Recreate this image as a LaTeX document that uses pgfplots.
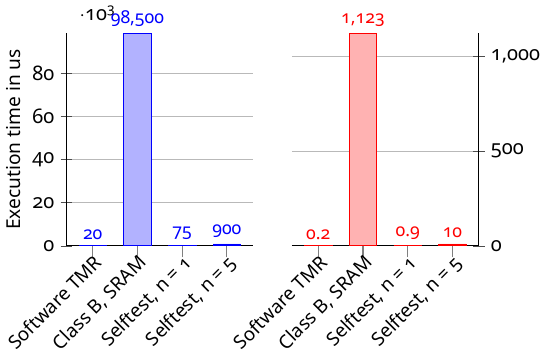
\documentclass[border=0pt]{standalone}
\usepackage{pgfplots}
\pgfplotsset{compat=1.18}
\usepackage{fontspec}
\setmainfont{Noto Sans}[Numbers=OldStyle]
\begin{document}
\begin{tikzpicture}
\pgfplotsset{
  timebars/.style={
    ybar, bar width=15.5pt,
    scale only axis, width=105.4pt, height=120pt,
    xmin=-0.59, xmax=3.59, ymin=0,
    xtick={0,1,2,3},
    xticklabels={Software TMR, {Class B, SRAM}, {Selftest, n = 1}, {Selftest, n = 5}},
    xticklabel style={rotate=45, anchor=north east, inner sep=0.5pt, font=\fontsize{10.6}{12.5}\selectfont},
    xticklabel shift=-3pt,
    yticklabel style={font=\fontsize{11.3}{13}\selectfont},
    major tick length=6.5pt,
    x tick style={gray, line width=0.6pt},
    xtick align=outside,
    y tick style={black!70},
    ytick align=center,
    axis x line*=bottom,
    ymajorgrids, grid style={gray!55, line width=0.4pt},
    nodes near coords,
    nodes near coords style={font=\fontsize{10}{12}\selectfont},
    /pgf/number format/assume math mode=true,
  },
}
% execution times in us
\begin{axis}[timebars,
    name=left, ymax=98500,
    axis y line*=left,
    ytick={0,20000,40000,60000,80000},
    scaled y ticks=base 10:-3,
    ytick scale label code/.code={$\cdot$10\textsuperscript{#1}},
    every y tick scale label/.style={at={(rel axis cs:0,1)}, anchor=base west, xshift=4pt, yshift=7pt, font=\fontsize{11.3}{13}\selectfont},
    ylabel={Execution time in us},
    ylabel style={font=\fontsize{10.8}{13}\selectfont},
  ]
  \addplot[draw=blue, fill=blue!30, text=blue] coordinates {(0,20) (1,98500) (2,75) (3,900)};
\end{axis}
\begin{axis}[timebars,
    at={(127.2pt,0)}, ymax=1123,
    axis y line*=right,
    ytick={0,500,1000},
  ]
  \addplot[draw=red, fill=red!30, text=red] coordinates {(0,0.2) (1,1123) (2,0.9) (3,10)};
\end{axis}
\end{tikzpicture}
\end{document}
